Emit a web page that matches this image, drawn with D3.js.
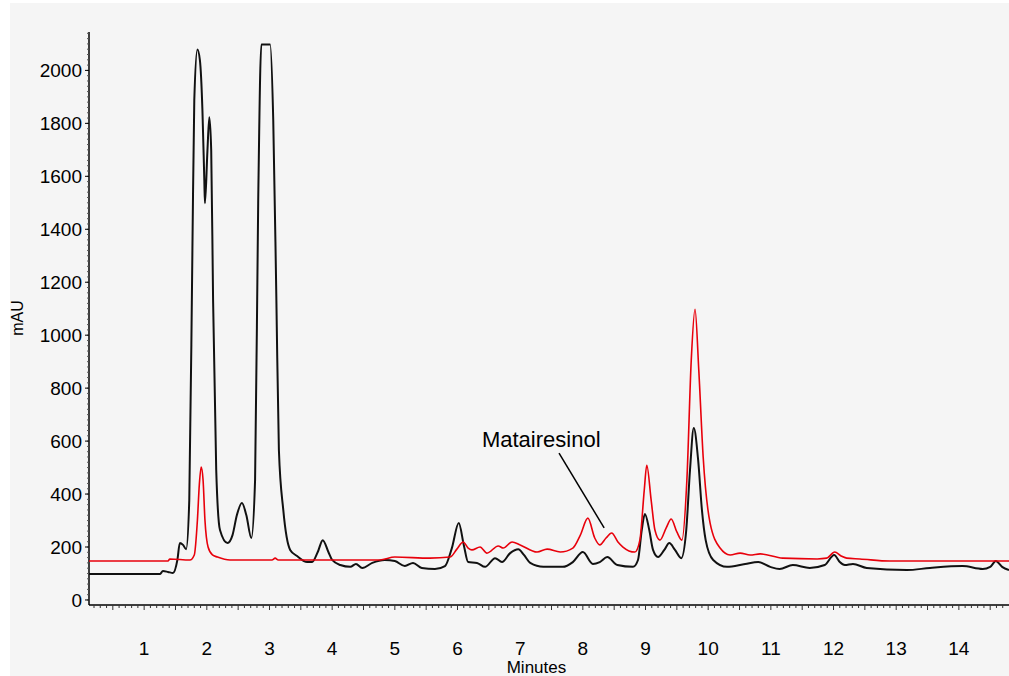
<!DOCTYPE html>
<html>
<head>
<meta charset="utf-8">
<script src="https://cdn.jsdelivr.net/npm/d3@7"></script>
<style>
  body { margin: 0; background: #fff; }
  svg { display: block; font-family: "Liberation Sans", Arial, sans-serif; }
</style>
</head>
<body>
<div id="chart"></div>
<script>
// retention times (min) and absorbance (mAU)
var blackTime = [0.12, 1.25, 1.30, 1.38, 1.46, 1.53, 1.57, 1.62, 1.67, 1.72, 1.77, 1.80, 1.85, 1.89, 1.93, 1.96, 1.97, 2.01, 2.04, 2.07, 2.10, 2.15, 2.21, 2.33, 2.41, 2.48, 2.56, 2.63, 2.71, 2.77, 2.82, 2.87, 3.01, 3.06, 3.11, 3.15, 3.22, 3.33, 3.44, 3.60, 3.68, 3.77, 3.85, 3.94, 4.00, 4.13, 4.29, 4.38, 4.48, 4.64, 4.84, 5.00, 5.16, 5.29, 5.43, 5.64, 5.80, 5.91, 6.02, 6.10, 6.17, 6.31, 6.44, 6.60, 6.71, 6.84, 6.97, 7.06, 7.16, 7.37, 7.68, 7.84, 8.00, 8.16, 8.27, 8.39, 8.55, 8.80, 8.88, 8.94, 8.99, 9.06, 9.12, 9.20, 9.30, 9.38, 9.47, 9.57, 9.65, 9.71, 9.77, 9.84, 9.90, 9.96, 10.08, 10.30, 10.59, 10.80, 10.99, 11.14, 11.35, 11.62, 11.86, 12.01, 12.10, 12.18, 12.31, 12.53, 13.17, 13.54, 14.06, 14.38, 14.50, 14.59, 14.69, 14.80];
var blackValue = [98, 98, 109, 106, 102, 151, 215, 208, 192, 377, 1321, 1887, 2079, 2038, 1849, 1585, 1498, 1698, 1823, 1698, 1132, 491, 264, 215, 245, 321, 366, 321, 234, 453, 1509, 2098, 2098, 1811, 1132, 566, 340, 189, 166, 143, 143, 181, 226, 181, 151, 132, 125, 136, 121, 140, 151, 147, 128, 140, 121, 117, 128, 196, 291, 208, 143, 140, 125, 158, 143, 177, 192, 170, 140, 125, 125, 143, 181, 136, 143, 162, 132, 125, 151, 264, 325, 264, 189, 162, 189, 215, 189, 158, 264, 491, 649, 528, 340, 226, 151, 125, 136, 143, 125, 117, 132, 121, 132, 170, 143, 132, 136, 121, 113, 121, 128, 117, 125, 147, 125, 113];

var redTime = [0.12, 1.38, 1.41, 1.73, 1.80, 1.85, 1.88, 1.91, 1.94, 1.97, 2.02, 2.09, 2.17, 2.37, 3.04, 3.09, 3.14, 4.76, 5.00, 5.56, 5.88, 5.99, 6.09, 6.17, 6.23, 6.36, 6.47, 6.65, 6.73, 6.87, 7.00, 7.27, 7.43, 7.64, 7.84, 7.96, 8.08, 8.19, 8.27, 8.37, 8.46, 8.56, 8.64, 8.83, 8.91, 8.98, 9.02, 9.09, 9.15, 9.23, 9.33, 9.41, 9.50, 9.58, 9.66, 9.73, 9.79, 9.85, 9.92, 10.03, 10.19, 10.35, 10.51, 10.67, 10.83, 11.19, 11.74, 11.89, 12.02, 12.12, 12.21, 12.42, 12.90, 14.80];
var redValue = [147, 147, 155, 151, 170, 302, 434, 502, 453, 302, 200, 170, 162, 151, 151, 158, 151, 151, 162, 158, 162, 192, 219, 196, 189, 200, 177, 204, 196, 219, 208, 181, 192, 181, 196, 245, 309, 234, 208, 234, 253, 219, 200, 181, 226, 415, 509, 377, 264, 226, 272, 306, 257, 226, 453, 906, 1098, 868, 540, 291, 196, 170, 177, 170, 174, 158, 155, 158, 181, 166, 158, 155, 147, 147];

var xTicks = [1, 2, 3, 4, 5, 6, 7, 8, 9, 10, 11, 12, 13, 14];
var yTicks = [0, 200, 400, 600, 800, 1000, 1200, 1400, 1600, 1800, 2000];

var annotation = { label: 'Matairesinol', textT: 6.39, textV: 577, fromT: 7.62, fromV: 555, toT: 8.34, toV: 272 };

var W = 1009, H = 676;

var svg = d3.select('#chart')
  .append('svg')
    .attr('width', W)
    .attr('height', H);

// grey panel
svg.append('rect')
    .attr('x', 10).attr('y', 3)
    .attr('width', W - 10).attr('height', H - 3)
    .attr('fill', '#f5f5f5');

var X = d3.scaleLinear().domain([0.12, 14.80]).range([89, 1009]);
var Y = d3.scaleLinear().domain([-19, 2145]).range([605, 32]);

// Y Axis
var yAxis = svg.append('g')
    .attr('transform', 'translate(89,0)');
yAxis.append('line')
    .attr('y1', Y(2145)).attr('y2', Y(-19))
    .attr('stroke', '#000').attr('stroke-width', 1.5);
yAxis.selectAll('.ymin')
  .data(d3.range(0, 2141, 20))
  .enter().append('line')
    .attr('x1', -2).attr('x2', 0)
    .attr('y1', function (d) { return Y(d); })
    .attr('y2', function (d) { return Y(d); })
    .attr('stroke', '#555').attr('stroke-width', 1);
yAxis.selectAll('.ytick')
  .data(yTicks)
  .enter().append('line')
    .attr('x1', -4).attr('x2', 0)
    .attr('y1', function (d) { return Y(d); })
    .attr('y2', function (d) { return Y(d); })
    .attr('stroke', '#000');
yAxis.selectAll('.ylab')
  .data(yTicks)
  .enter().append('text')
    .attr('x', -7)
    .attr('y', function (d) { return Y(d); })
    .attr('dy', '0.35em')
    .attr('text-anchor', 'end')
    .attr('font-size', '19px')
    .attr('fill', '#000')
    .text(function (d) { return d; });

// X Axis
var xAxis = svg.append('g')
    .attr('transform', 'translate(0,605)');
xAxis.append('line')
    .attr('x1', 89).attr('x2', W)
    .attr('stroke', '#000').attr('stroke-width', 1.5);
xAxis.selectAll('.xmin')
  .data(d3.range(2, 148).map(function (i) { return i / 10; }))
  .enter().append('line')
    .attr('x1', function (d) { return X(d); })
    .attr('x2', function (d) { return X(d); })
    .attr('y1', 0)
    .attr('y2', function (d) { return Math.abs(d * 2 - Math.round(d * 2)) < 1e-6 ? 5 : 3; })
    .attr('stroke', '#333').attr('stroke-width', 1);
xAxis.selectAll('.xlab')
  .data(xTicks)
  .enter().append('text')
    .attr('x', function (d) { return X(d); })
    .attr('y', 50)
    .attr('text-anchor', 'middle')
    .attr('font-size', '19px')
    .attr('fill', '#000')
    .text(function (d) { return d; });

// Axis titles
svg.append('text')
    .attr('x', X(7.26))
    .attr('y', 673)
    .attr('text-anchor', 'middle')
    .attr('font-size', '17px')
    .text('Minutes');
svg.append('text')
    .attr('transform', 'translate(23,' + 318 + ') rotate(-90)')
    .attr('text-anchor', 'middle')
    .attr('font-size', '16px')
    .text('mAU');

// Traces
var line = d3.line()
    .x(function (d) { return X(d[0]); })
    .y(function (d) { return Y(d[1]); })
    .curve(d3.curveMonotoneX);

svg.append('path')
    .datum(d3.zip(blackTime, blackValue))
    .attr('d', line)
    .attr('fill', 'none')
    .attr('stroke', '#111')
    .attr('stroke-width', 2);

svg.append('path')
    .datum(d3.zip(redTime, redValue))
    .attr('d', line)
    .attr('fill', 'none')
    .attr('stroke', '#e8000b')
    .attr('stroke-width', 1.6);

// Annotation
svg.append('text')
    .attr('x', X(annotation.textT))
    .attr('y', Y(annotation.textV))
    .attr('font-size', '22px')
    .attr('fill', '#000')
    .text(annotation.label);
svg.append('line')
    .attr('x1', X(annotation.fromT)).attr('y1', Y(annotation.fromV))
    .attr('x2', X(annotation.toT)).attr('y2', Y(annotation.toV))
    .attr('stroke', '#000').attr('stroke-width', 1.5);
</script>
</body>
</html>
